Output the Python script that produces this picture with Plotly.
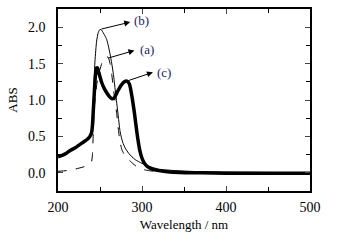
import plotly.graph_objects as go

# Wavelength grids (nm) and absorbance values
wl_a = [200, 210, 220, 230, 235, 238, 240, 241, 242, 243, 244, 246, 248, 250, 252, 254, 256, 258, 260, 262,
        264, 266, 268, 270, 272, 274, 276, 280, 286, 292, 300, 308, 320, 350, 400, 450, 500]
abs_a = [0.02, 0.03, 0.05, 0.08, 0.10, 0.13, 0.16, 0.25, 0.55, 0.85, 1.00, 1.20, 1.35, 1.42, 1.50, 1.55, 1.58, 1.60, 1.58, 1.50,
         1.35, 1.15, 0.98, 0.80, 0.58, 0.42, 0.32, 0.23, 0.16, 0.10, 0.05, 0.03, 0.015, 0.005, 0.0, 0.0, 0.0]

wl_b = [200, 205, 210, 215, 220, 225, 230, 235, 238, 240, 241, 242, 244, 246, 248, 250, 252, 254, 256, 258,
        260, 262, 264, 266, 268, 270, 272, 274, 277, 280, 284, 288, 292, 300, 311, 320, 340, 370, 400, 450, 500]
abs_b = [0.22, 0.24, 0.27, 0.31, 0.34, 0.38, 0.42, 0.46, 0.49, 0.55, 0.70, 0.99, 1.53, 1.81, 1.93, 1.97, 1.96, 1.92, 1.88, 1.83,
         1.74, 1.63, 1.50, 1.35, 1.15, 0.95, 0.75, 0.56, 0.42, 0.34, 0.27, 0.22, 0.18, 0.13, 0.08, 0.05, 0.03, 0.015, 0.01, 0.005, 0.0]

wl_c = [200, 205, 210, 215, 220, 225, 230, 235, 238, 240, 241, 242, 243, 244, 245, 246, 247, 248, 250, 252,
        255, 258, 261, 264, 266, 268, 271, 275, 279, 282, 285, 288, 291, 294, 297, 300, 303, 306, 310, 315,
        320, 330, 345, 370, 400, 450, 500]
abs_c = [0.22, 0.24, 0.27, 0.31, 0.34, 0.38, 0.42, 0.46, 0.50, 0.55, 0.65, 0.85, 1.05, 1.25, 1.38, 1.44, 1.44, 1.40, 1.32, 1.24,
         1.16, 1.10, 1.05, 1.02, 1.02, 1.05, 1.12, 1.20, 1.25, 1.26, 1.22, 1.05, 0.82, 0.55, 0.33, 0.20, 0.13, 0.09, 0.06, 0.04,
         0.03, 0.015, 0.005, 0.0, -0.005, -0.005, -0.005]

x_ticks = [200, 300, 400, 500]
y_ticks = [0.0, 0.5, 1.0, 1.5, 2.0]

labels = ["(a)", "(b)", "(c)"]
# arrow tail (on curve), arrow tip, label centre
arrow_tail = [(258, 1.57), (250, 1.97), (282, 1.26)]
arrow_tip = [(291, 1.68), (286, 2.07), (313, 1.38)]
label_pos = [(306, 1.70), (299, 2.09), (326, 1.38)]

fig = go.Figure()
fig.add_trace(go.Scatter(x=wl_a, y=abs_a, mode="lines", line=dict(color="black", width=1, dash="dash",
                         shape="spline", smoothing=0.6), showlegend=False))
fig.add_trace(go.Scatter(x=wl_b, y=abs_b, mode="lines", line=dict(color="black", width=1,
                         shape="spline", smoothing=0.6), showlegend=False))
fig.add_trace(go.Scatter(x=wl_c, y=abs_c, mode="lines", line=dict(color="black", width=3.5,
                         shape="spline", smoothing=0.6), showlegend=False))

for lab, (tx, ty), (hx, hy), (lx, ly) in zip(labels, arrow_tail, arrow_tip, label_pos):
    fig.add_annotation(x=hx, y=hy, ax=tx, ay=ty, xref="x", yref="y", axref="x", ayref="y",
                       text="", showarrow=True, arrowhead=2, arrowsize=1.2, arrowwidth=1,
                       arrowcolor="black", standoff=0, startstandoff=0)
    fig.add_annotation(x=lx, y=ly, xref="x", yref="y", text=lab, showarrow=False,
                       font=dict(family="Liberation Serif", size=13, color="#1e1e5a"))

font = dict(family="Liberation Serif", size=14, color="black")
fig.update_layout(
    width=357, height=241,
    margin=dict(l=58, r=47, t=7, b=50),
    paper_bgcolor="white", plot_bgcolor="white",
    font=font,
    xaxis=dict(range=[200, 500], tickvals=x_ticks, ticks="inside", ticklen=5, tickwidth=1.2,
               showline=True, linewidth=1.5, linecolor="black", mirror="allticks", showgrid=False,
               zeroline=False, minor=dict(dtick=50, ticks="inside", ticklen=4, tickwidth=1, tickcolor="black"),
               title=dict(text="Wavelength / nm", font=dict(family="Liberation Serif", size=13), standoff=6),
               ticklabelstandoff=2, tickfont=font),
    yaxis=dict(range=[-0.25, 2.25], tickvals=y_ticks, tickformat=".1f", ticks="inside", ticklen=5, tickwidth=1.2,
               showline=True, linewidth=1.5, linecolor="black", mirror="allticks", showgrid=False,
               zeroline=False, minor=dict(dtick=0.25, ticks="inside", ticklen=4, tickwidth=1, tickcolor="black"),
               title=dict(text="ABS", font=dict(family="Liberation Serif", size=13), standoff=7),
               ticklabelstandoff=8, tickfont=font),
)
fig.write_html("out.html", config={"displayModeBar": False},
               post_script="document.body.style.margin='0';document.body.style.padding='0';")
